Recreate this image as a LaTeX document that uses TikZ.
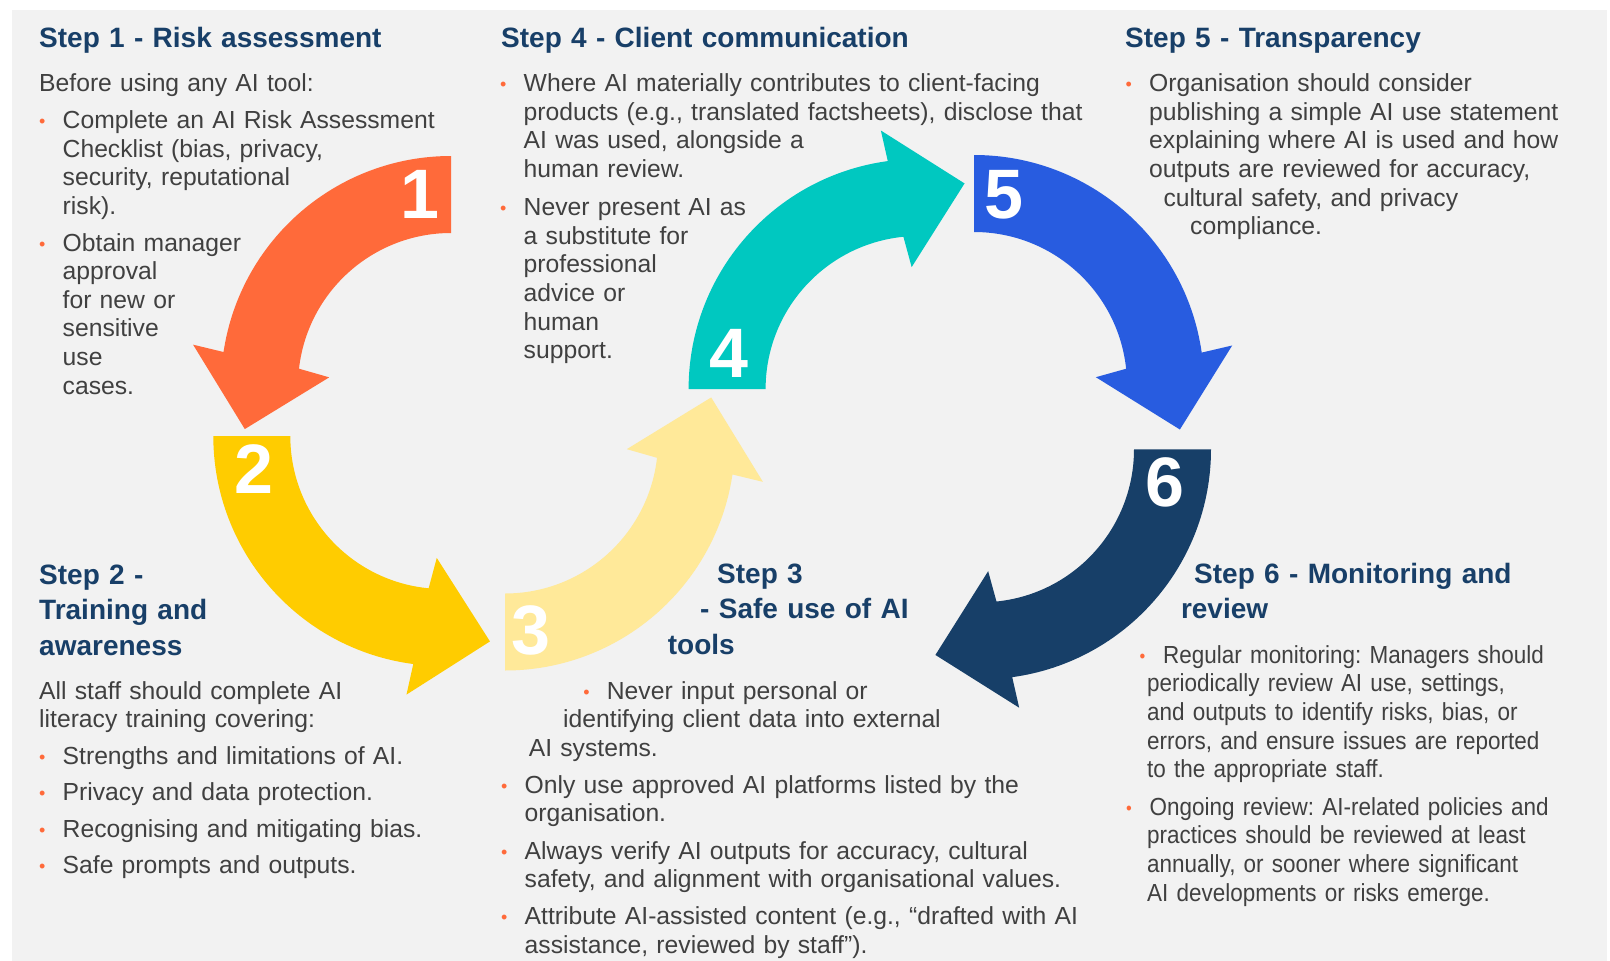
\documentclass[tikz,border=0pt]{standalone}
\usepackage{fontspec}
\setmainfont{Liberation Sans}
\newfontfamily\narrowfont{Liberation Sans}[FakeStretch=0.91]
\usepackage{xcolor}
\usepackage{tikz}
\usetikzlibrary{calc}
\frenchspacing
\definecolor{panelgrey}{HTML}{F2F2F2}
\definecolor{titlenavy}{HTML}{183F68}
\definecolor{bodygrey}{HTML}{404040}
\definecolor{dotorange}{HTML}{FF6A3A}
\definecolor{arroworange}{HTML}{FF6A3A}
\definecolor{arrowyellow}{HTML}{FFCC00}
\definecolor{arrowlight}{HTML}{FFE999}
\definecolor{arrowteal}{HTML}{00C8C0}
\definecolor{arrowblue}{HTML}{285CE0}
\definecolor{arrownavy}{HTML}{173F68}
\newcommand{\bul}{\makebox[23.5pt][l]{\raisebox{1pt}{\textcolor{dotorange}{\fontsize{18}{18}\selectfont\textbullet}}}}
\newcommand{\bulind}{\hspace*{23.5pt}}
% curved band from #2 to #3 around centre #1, turning +1 (ccw) or -1 (cw), head at the end
\newcommand{\cyclearrow}[5]{%
  \pgfmathsetmacro{\arrOut}{#3-(#4)}%
  \pgfmathsetmacro{\arrIn}{#3+(#4)}%
  \pgfmathsetmacro{\arrBase}{#3-6*(#4)}%
  \pgfmathsetmacro{\arrTip}{#3+84*(#4)}%
  \fill[#5] ($(#1)+(#2:230)$) arc[start angle=#2, end angle=\arrOut, radius=230]
    -- ($(#1)+(#3:191.5)+(\arrBase:70)$)
    -- ($(#1)+(#3:191.5)+(\arrTip:70)$)
    -- ($(#1)+(#3:191.5)+(\arrBase+180:70)$)
    -- ($(#1)+(\arrIn:153)$) arc[start angle=\arrIn, end angle=#2, radius=153]
    -- cycle;}

\begin{document}
\begin{tikzpicture}[
    x=1pt, y=1pt,
    steptitle/.style={anchor=base west, inner sep=0pt, text width=1000pt, align=left, text=titlenavy, font=\fontsize{28}{35.5}\selectfont\bfseries},
    stepbody/.style={anchor=base west, inner sep=0pt, text width=1000pt, align=left, text=bodygrey, font=\fontsize{24.7}{28.6}\selectfont},
    narrowbody/.style={stepbody, font=\narrowfont\fontsize{24.7}{28.7}\selectfont},
    stepnum/.style={anchor=base, inner sep=0pt, text=white, font=\fontsize{70}{70}\selectfont\bfseries}
]
\useasboundingbox (0,0) rectangle (1610,-961);
\fill[white] (0,0) rectangle (1610,-961);
\fill[panelgrey] (12,-10) rectangle (1607,-961);

\cyclearrow{451,-386}{90}{172.5}{1}{arroworange}
\cyclearrow{443.3,-436}{180}{263.5}{1}{arrowyellow}
\cyclearrow{505,-440.5}{270}{352.5}{1}{arrowlight}
\cyclearrow{918.6,-389}{180}{96.7}{-1}{arrowteal}
\cyclearrow{974,-385}{90}{7.1}{-1}{arrowblue}
\cyclearrow{981,-449.3}{360}{276.8}{-1}{arrownavy}

\node[stepnum] (n1) at (419.5,-218) {1};
\node[stepnum] (n2) at (253.5,-493) {2};
\node[stepnum] (n3) at (530.5,-654) {3};
\node[stepnum] (n4) at (728.5,-377) {4};
\node[stepnum] (n5) at (1004,-218) {5};
\node[stepnum] (n6) at (1164.5,-506.5) {6};

\node[steptitle] (s1title) at (39,-47.5) {Step 1 - Risk assessment};
\node[stepbody] (s1body) at (39,-91.7) {Before using any AI tool:\\[8.2pt]
\bul Complete an AI Risk Assessment\\
\bulind Checklist (bias, privacy,\\
\bulind security, reputational\\
\bulind risk).\\[8.2pt]
\bul Obtain manager\\
\bulind approval\\
\bulind for new or\\
\bulind sensitive\\
\bulind use\\
\bulind cases.};

\node[steptitle] (s2title) at (39,-584) {Step 2 -\\Training and\\awareness};
\node[stepbody] (s2body) at (39,-699) {All staff should complete AI\\
literacy training covering:\\[8.5pt]
\bul Strengths and limitations of AI.\\[7.6pt]
\bul Privacy and data protection.\\[7.6pt]
\bul Recognising and mitigating bias.\\[7.6pt]
\bul Safe prompts and outputs.};

\node[steptitle] (s3title) at (667.7,-583) {\hspace*{49.3pt}Step 3\\\hspace*{32.3pt}- Safe use of AI\\tools};
\node[stepbody] (s3body) at (501,-699) {\hspace*{82.2pt}\bul Never input personal or\\
\hspace*{62pt}identifying client data into external\\
\hspace*{27.6pt}AI systems.\\[8.5pt]
\bul Only use approved AI platforms listed by the\\
\bulind organisation.\\[8.5pt]
\bul Always verify AI outputs for accuracy, cultural\\
\bulind safety, and alignment with organisational values.\\[8.5pt]
\bul Attribute AI-assisted content (e.g., “drafted with AI\\
\bulind assistance, reviewed by staff”).};

\node[steptitle] (s4title) at (501,-47.5) {Step 4 - Client communication};
\node[stepbody] (s4body) at (500,-91.7) {\bul Where AI materially contributes to client-facing\\
\bulind products (e.g., translated factsheets), disclose that\\
\bulind AI was used, alongside a\\
\bulind human review.\\[9.5pt]
\bul Never present AI as\\
\bulind a substitute for\\
\bulind professional\\
\bulind advice or\\
\bulind human\\
\bulind support.};

\node[steptitle] (s5title) at (1125,-47.5) {Step 5 - Transparency};
\node[stepbody] (s5body) at (1125.5,-91.7) {\bul Organisation should consider\\
\bulind publishing a simple AI use statement\\
\bulind explaining where AI is used and how\\
\bulind outputs are reviewed for accuracy,\\
\hspace*{37.8pt}cultural safety, and privacy\\
\hspace*{64.5pt}compliance.};

\node[steptitle] (s6title) at (1180.8,-583) {\hspace*{13.2pt}Step 6 - Monitoring and\\review};
\node[narrowbody] (s6body) at (1126,-663) {\hspace*{13.5pt}\bul Regular monitoring: Managers should\\
\hspace*{21pt}periodically review AI use, settings,\\
\hspace*{21pt}and outputs to identify risks, bias, or\\
\hspace*{21pt}errors, and ensure issues are reported\\
\hspace*{21pt}to the appropriate staff.\\[8.5pt]
\bul Ongoing review: AI-related policies and\\
\hspace*{21pt}practices should be reviewed at least\\
\hspace*{21pt}annually, or sooner where significant\\
\hspace*{21pt}AI developments or risks emerge.};
\end{tikzpicture}
\end{document}
